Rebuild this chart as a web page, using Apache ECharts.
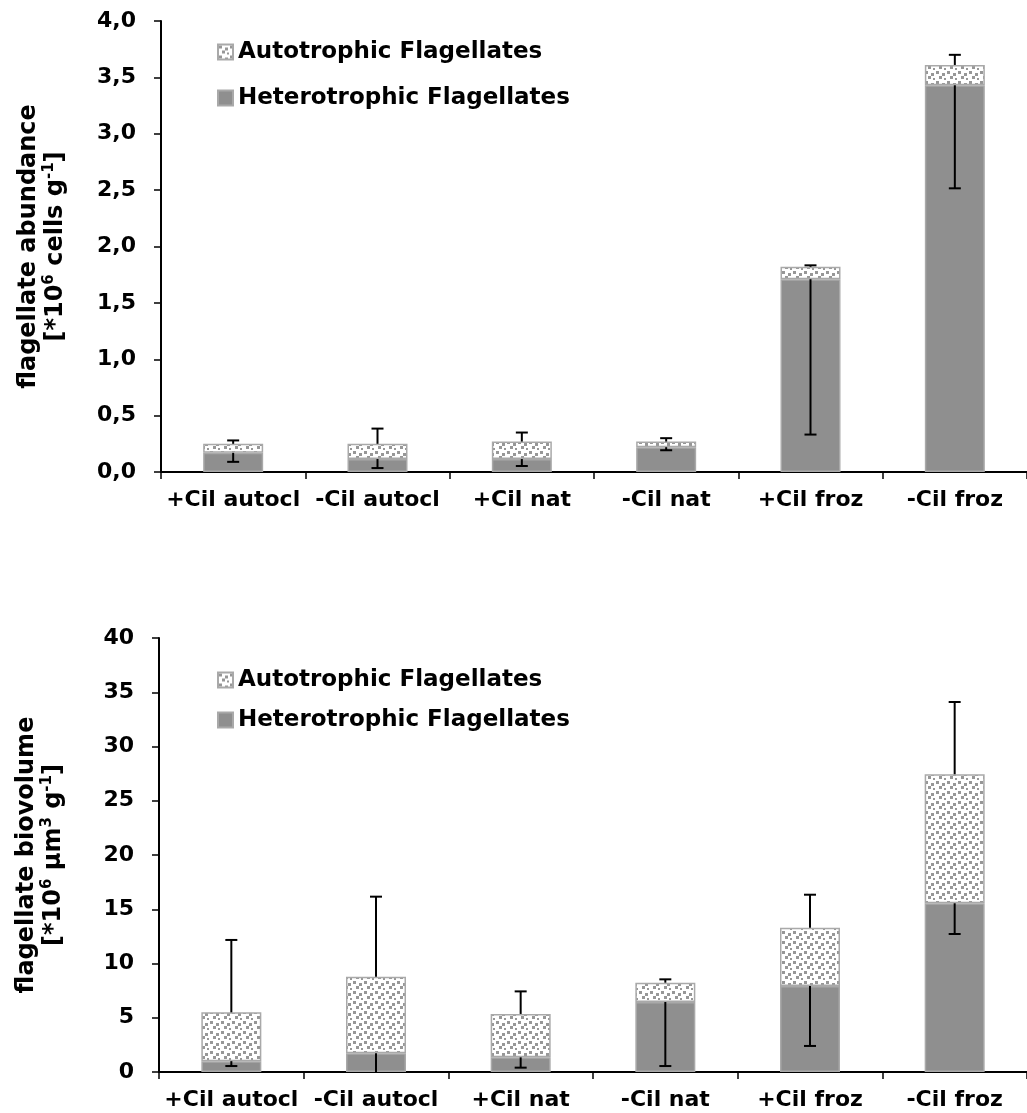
<!DOCTYPE html>
<html>
<head>
<meta charset="utf-8">
<script src="https://cdn.jsdelivr.net/npm/echarts@6/dist/echarts.min.js"></script>
<style>
  html, body { margin: 0; padding: 0; background: #fff; }
  #chart { width: 1027px; height: 1113px; }
</style>
</head>
<body>
<div id="chart"></div>
<script>
// categories shared by both panels
var categories = ['+Cil autocl', '-Cil autocl', '+Cil nat', '-Cil nat', '+Cil froz', '-Cil froz'];
var seriesNames = ['Autotrophic Flagellates', 'Heterotrophic Flagellates'];

// top panel: flagellate abundance [*10^6 cells g-1]
var abundHetero = [0.17, 0.115, 0.115, 0.22, 1.71, 3.43];
var abundAuto = [0.08, 0.135, 0.155, 0.05, 0.11, 0.18];
var abundAutoErr = [0.03, 0.135, 0.08, 0.03, 0.013, 0.09];     // plus error, from the stack top
var abundHeteroErr = [0.08, 0.08, 0.062, 0.027, 1.378, 0.914]; // minus error, from the hetero top
var abundTicks = { min: 0, max: 4, interval: 0.5 };

// bottom panel: flagellate biovolume [*10^6 um3 g-1]
var bioHetero = [1.0, 1.72, 1.35, 6.45, 7.93, 15.55];
var bioAuto = [4.5, 7.07, 4.0, 1.78, 5.37, 11.89];
var bioAutoErr = [6.67, 7.37, 2.08, 0.31, 3.04, 6.66];
var bioHeteroErr = [0.45, 2.0, 0.95, 5.9, 5.53, 2.83];
var bioTicks = { min: 0, max: 40, interval: 5 };

var FONT = 'DejaVu Sans';
var heteroColor = '#8f8f8f';
var edgeColor = '#a9a9a9';

// small confetti pattern for the autotrophic part
function makeConfetti() {
    var c = document.createElement('canvas');
    c.width = 11;
    c.height = 10;
    var ctx = c.getContext('2d');
    ctx.fillStyle = '#ffffff';
    ctx.fillRect(0, 0, 11, 10);
    ctx.fillStyle = '#979797';
    [[1, 1], [7, 3], [4, 6], [9, 8]].forEach(function (p) {
        ctx.fillRect(p[0], p[1], 3, 3);
    });
    return c;
}
var autoFill = { image: makeConfetti(), repeat: 'repeat' };

function errData(hetero, auto, autoErr, heteroErr) {
    var out = [];
    categories.forEach(function (c, i) {
        var total = hetero[i] + auto[i];
        out.push([i, total, total + autoErr[i]]);
        out.push([i, hetero[i], hetero[i] - heteroErr[i]]);
    });
    return out;
}

function renderErr(params, api) {
    var a = api.coord([api.value(0), api.value(1)]);
    var b = api.coord([api.value(0), api.value(2)]);
    var half = 6;
    var style = { stroke: '#000', lineWidth: 2 };
    return {
        type: 'group',
        children: [
            { type: 'line', shape: { x1: a[0], y1: a[1], x2: b[0], y2: b[1] }, style: style },
            { type: 'line', shape: { x1: b[0] - half, y1: b[1], x2: b[0] + half, y2: b[1] }, style: style }
        ]
    };
}

function yAxisFor(idx, ticks, decimals, nameRich) {
    return {
        type: 'value',
        gridIndex: idx,
        min: ticks.min,
        max: ticks.max,
        interval: ticks.interval,
        splitLine: { show: false },
        axisLine: { show: true, lineStyle: { color: '#000', width: 2 } },
        axisTick: { show: true, length: 7, lineStyle: { color: '#000', width: 1.5 } },
        axisLabel: {
            margin: 25,
            color: '#000',
            fontFamily: FONT,
            fontWeight: 'bold',
            fontSize: 22,
            formatter: function (v) { return v.toFixed(decimals).replace('.', ','); }
        },
        name: nameRich,
        nameLocation: 'middle',
        nameRotate: 90,
        nameGap: 92,
        nameTextStyle: {
            color: '#000',
            fontFamily: FONT,
            fontWeight: 'bold',
            fontSize: 24,
            align: 'center',
            rich: {
                t: { fontFamily: FONT, fontWeight: 'bold', fontSize: 24, color: '#000', lineHeight: 27 },
                s: { fontFamily: FONT, fontWeight: 'bold', fontSize: 15, color: '#000', lineHeight: 27, verticalAlign: 'top' }
            }
        }
    };
}

function xAxisFor(idx) {
    return {
        type: 'category',
        gridIndex: idx,
        data: categories,
        axisLine: { lineStyle: { color: '#000', width: 2 } },
        axisTick: { show: true, length: 7, lineStyle: { color: '#000', width: 1.5 } },
        axisLabel: {
            margin: 17,
            color: '#000',
            fontFamily: FONT,
            fontWeight: 'bold',
            fontSize: 22,
            interval: 0
        }
    };
}

function barSeries(name, data, idx, fill) {
    return {
        name: name,
        type: 'bar',
        stack: 'panel' + idx,
        xAxisIndex: idx,
        yAxisIndex: idx,
        barWidth: 60,
        data: data,
        itemStyle: { color: fill, borderColor: edgeColor, borderWidth: 1.5 },
        emphasis: { disabled: true }
    };
}

function legendFor(top, gap) {
    return {
        data: seriesNames,
        orient: 'vertical',
        icon: 'rect',
        left: 212,
        top: top,
        itemWidth: 15,
        itemHeight: 15,
        itemGap: gap,
        selectedMode: false,
        textStyle: { color: '#000', fontFamily: FONT, fontWeight: 'bold', fontSize: 23, lineHeight: 26 }
    };
}

var chart = echarts.init(document.getElementById('chart'), null, { renderer: 'canvas' });

var option = {
    animation: false,
    backgroundColor: '#fff',
    grid: [
        { left: 161, top: 21, width: 872, height: 451 },
        { left: 159, top: 638, width: 874, height: 434 }
    ],
    legend: [legendFor(34, 20), legendFor(662, 14)],
    xAxis: [xAxisFor(0), xAxisFor(1)],
    yAxis: [
        yAxisFor(0, abundTicks, 1, '{t|flagellate abundance}\n{t|[*10}{s|6}{t| cells g}{s|-1}{t|]}'),
        yAxisFor(1, bioTicks, 0, '{t|flagellate biovolume}\n{t|[*10}{s|6}{t| µm}{s|3}{t| g}{s|-1}{t|]}')
    ],
    series: [
        barSeries(seriesNames[1], abundHetero, 0, heteroColor),
        barSeries(seriesNames[0], abundAuto, 0, autoFill),
        barSeries(seriesNames[1], bioHetero, 1, heteroColor),
        barSeries(seriesNames[0], bioAuto, 1, autoFill),
        {
            type: 'custom',
            xAxisIndex: 0,
            yAxisIndex: 0,
            clip: true,
            z: 5,
            silent: true,
            renderItem: renderErr,
            data: errData(abundHetero, abundAuto, abundAutoErr, abundHeteroErr)
        },
        {
            type: 'custom',
            xAxisIndex: 1,
            yAxisIndex: 1,
            clip: true,
            z: 5,
            silent: true,
            renderItem: renderErr,
            data: errData(bioHetero, bioAuto, bioAutoErr, bioHeteroErr)
        }
    ]
};

chart.setOption(option);

window.addEventListener('resize', function () {
    chart.resize();
});
</script>
</body>
</html>
